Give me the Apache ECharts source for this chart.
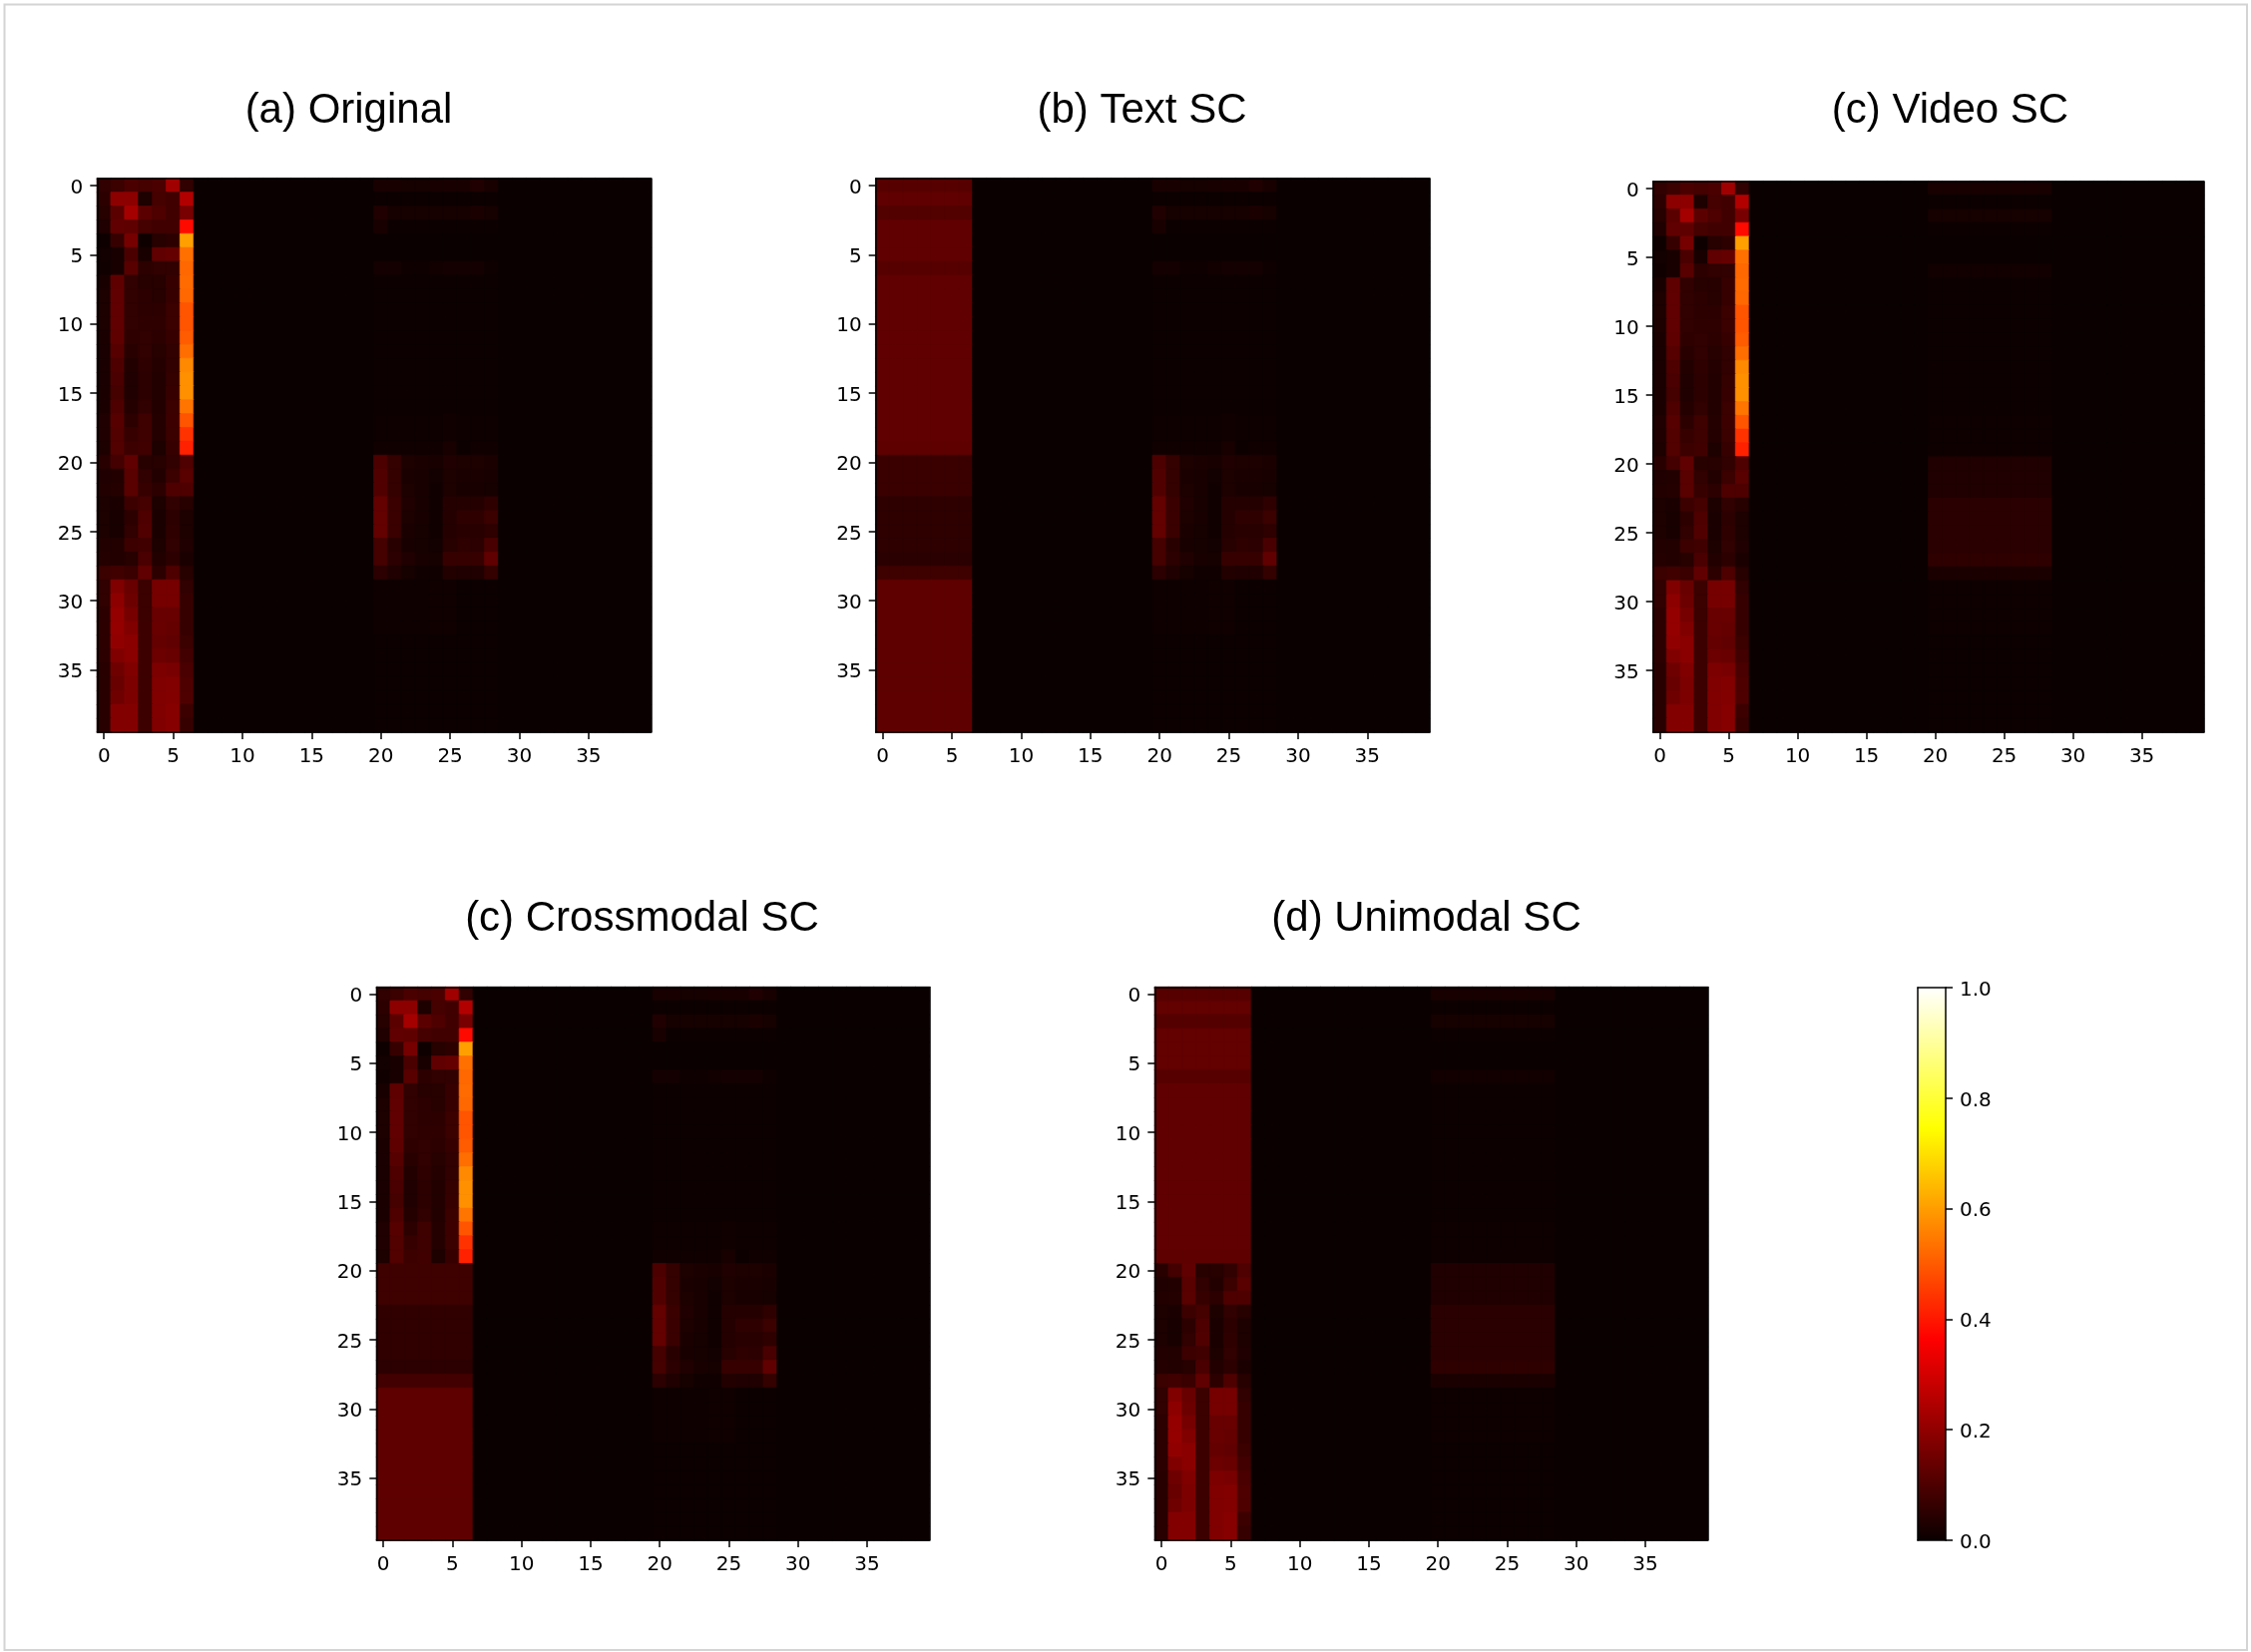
<!DOCTYPE html>
<html><head><meta charset="utf-8">
<style>html,body{margin:0;padding:0;background:#fff}#c{width:2256px;height:1656px}</style>
<script src="https://cdn.jsdelivr.net/npm/echarts@6/dist/echarts.min.js"></script>
</head><body><div id="c"></div>
<script>
const size = 40;
const indexLabels = Array.from({length: size}, (_, i) => String(i));
const colorbarTicks = [0, 0.2, 0.4, 0.6, 0.8, 1.0];
const panelTitles = ['(a) Original', '(b) Text SC', '(c) Video SC', '(c) Crossmodal SC', '(d) Unimodal SC'];

// Columns 0-6, rows 0-39
const originalLeft = [
[.058,.073,.096,.088,.096,.225,.058],[.051,.195,.195,.028,.088,.081,.250],[.043,.120,.230,.120,.100,.081,.165],
[.031,.130,.125,.088,.081,.081,.380],[.006,.066,.160,.006,.043,.051,.604],[.013,.021,.096,.021,.130,.135,.532],
[.010,.021,.115,.051,.058,.058,.520],[.021,.125,.058,.043,.043,.066,.525],[.028,.128,.058,.051,.043,.066,.520],
[.028,.128,.058,.051,.051,.073,.490],[.028,.128,.058,.055,.055,.073,.490],[.025,.125,.055,.058,.051,.066,.500],
[.024,.112,.046,.058,.043,.058,.530],[.024,.100,.036,.055,.040,.058,.570],[.024,.094,.031,.051,.037,.061,.580],
[.025,.088,.031,.051,.037,.066,.580],[.025,.100,.040,.058,.037,.073,.540],[.031,.112,.051,.078,.040,.076,.490],
[.031,.106,.066,.078,.040,.073,.440],[.028,.106,.074,.080,.028,.066,.415],[.046,.086,.128,.043,.043,.058,.102],
[.031,.036,.118,.058,.036,.073,.118],[.036,.040,.118,.066,.051,.100,.100],[.028,.025,.074,.088,.028,.058,.043],
[.028,.020,.051,.100,.025,.051,.028],[.028,.020,.058,.105,.025,.055,.028],[.037,.036,.074,.080,.028,.058,.031],
[.040,.037,.043,.095,.037,.051,.025],[.073,.080,.070,.130,.051,.100,.043],[.058,.175,.140,.073,.160,.160,.058],
[.058,.195,.145,.073,.160,.160,.066],[.051,.205,.160,.073,.140,.140,.066],[.051,.205,.175,.076,.140,.135,.066],
[.051,.200,.190,.076,.135,.130,.073],[.051,.175,.190,.076,.145,.140,.085],[.046,.150,.175,.076,.170,.165,.095],
[.046,.140,.170,.076,.175,.180,.100],[.046,.150,.170,.076,.175,.180,.100],[.046,.180,.180,.076,.175,.185,.076],
[.046,.180,.180,.076,.175,.185,.066]];

// Columns 20-28, rows 0-39
const originalMid = [
[.021,.021,.017,.017,.020,.022,.022,.032,.020],[.002,.002,.002,.002,.002,.002,.002,.002,.002],
[.032,.017,.017,.017,.017,.017,.017,.025,.017],[.022,.003,.003,.003,.003,.003,.003,.003,.003],
[0,0,0,0,0,0,0,0,0],[0,0,0,0,0,0,0,0,0],[.015,.015,.006,.006,.012,.015,.015,.015,.006],
[.004,.004,.004,.004,.004,.004,.004,.004,.004],[.004,.004,.004,.004,.004,.004,.004,.004,.004],
[.004,.004,.004,.004,.004,.004,.004,.004,.004],[.004,.004,.004,.004,.004,.004,.004,.004,.004],
[.004,.004,.004,.004,.004,.004,.004,.004,.004],[.004,.004,.004,.004,.004,.004,.004,.004,.004],
[.004,.004,.004,.004,.004,.004,.004,.004,.004],[.004,.004,.004,.004,.004,.004,.004,.004,.004],
[.004,.004,.004,.004,.004,.004,.004,.004,.004],[.004,.004,.004,.004,.004,.004,.004,.004,.004],
[.005,.005,.005,.005,.005,.010,.005,.005,.005],[.005,.005,.005,.005,.005,.010,.005,.005,.005],
[.010,.010,.008,.008,.010,.020,.003,.010,.010],[.098,.062,.028,.025,.020,.031,.028,.028,.025],
[.105,.062,.025,.022,.013,.028,.025,.025,.022],[.105,.062,.028,.022,.010,.028,.022,.022,.017],
[.132,.070,.031,.022,.010,.040,.040,.040,.055],[.132,.070,.028,.022,.010,.040,.055,.055,.072],
[.132,.070,.025,.017,.010,.040,.046,.046,.052],[.088,.046,.022,.017,.013,.043,.052,.050,.092],
[.088,.050,.031,.021,.017,.066,.066,.066,.128],[.050,.031,.017,.010,.010,.036,.031,.031,.062],
[.006,.006,.006,.006,.008,.008,.002,.002,.002],[.006,.006,.006,.006,.008,.008,.002,.002,.002],
[.006,.006,.006,.006,.008,.008,.002,.002,.002],[.006,.006,.006,.006,.008,.008,.002,.002,.002],
[.001,.001,.001,.001,.001,.001,.001,.001,.001],[.001,.001,.001,.001,.001,.001,.001,.001,.001],
[.001,.001,.001,.001,.001,.001,.001,.001,.001],[.001,.001,.001,.001,.001,.001,.001,.001,.001],
[.001,.001,.001,.001,.001,.001,.001,.001,.001],[.001,.001,.001,.001,.001,.001,.001,.001,.001],
[.001,.001,.001,.001,.001,.001,.001,.001,.001]];

// Rows whose cells share one value across the block
const textLeftRows = [.112,.128,.108,.130,.130,.130,.112,.130,.130,.130,.130,.130,.130,.130,.130,.130,.130,.130,.130,.125,
  .070,.070,.070,.052,.052,.052,.052,.048,.078,.126,.126,.126,.126,.126,.126,.126,.126,.126,.126,.126];
const crossLeftRows = [.078,.078,.078,.056,.056,.056,.056,.050,.084,.126,.126,.126,.126,.126,.126,.126,.126,.126,.126,.126];
const unimodalLeftRows = [.112,.132,.110,.132,.132,.132,.114,.130,.130,.130,.130,.130,.130,.130,.130,.130,.130,.130,.130,.126];
const sharedMidRows = [.020,.002,.017,.003,0,0,.012,.004,.004,.004,.004,.004,.004,.004,.004,.004,.004,.005,.005,.006,
  .032,.032,.032,.048,.048,.048,.048,.052,.025,.005,.005,.005,.005,.001,.001,.001,.001,.001,.001,.001];

const fill = (n, v) => Array(n).fill(v);
const textLeft = textLeftRows.map(v => fill(7, v));
const crossLeft = originalLeft.slice(0, 20).concat(crossLeftRows.map(v => fill(7, v)));
const unimodalLeft = unimodalLeftRows.map(v => fill(7, v)).concat(originalLeft.slice(20));
const sharedMid = sharedMidRows.map(v => fill(9, v));

const panelBlocks = [
  [originalLeft, originalMid],
  [textLeft, originalMid],
  [originalLeft, sharedMid],
  [crossLeft, originalMid],
  [unimodalLeft, sharedMid]
];

// matplotlib "hot" colormap
function hot(t) {
  const c = (a, b, s) => Math.round(255 * Math.min(1, Math.max(0, s + (t - a) / (b - a) * (1 - s))));
  return `rgb(${c(0, 0.365, 0.0416)},${c(0.365, 0.746, 0)},${c(0.746, 1, 0)})`;
}
const hotColors = Array.from({length: 256}, (_, i) => hot(i / 255));

function cells(left, mid) {
  const out = [];
  for (let y = 0; y < size; y++) for (let x = 0; x < size; x++) {
    let v = 0;
    if (x < 7) v = left[y][x];
    else if (x >= 20 && x <= 28) v = mid[y][x - 20];
    // same-coloured hairline closes the antialiasing seams between fractional cells
    out.push({value: [x, y, v], itemStyle: {borderColor: hot(v), borderWidth: 0.7}});
  }
  return out;
}

const layout = [
  {l: 97.3, t: 179, w: 555, h: 555, tx: 344.5, ty: 106},
  {l: 877.7, t: 179, w: 555, h: 555, tx: 1139.5, ty: 106},
  {l: 1656.7, t: 182, w: 552, h: 552, tx: 1949.5, ty: 106},
  {l: 377.3, t: 989.5, w: 554, h: 554.5, tx: 638.5, ty: 916},
  {l: 1157.3, t: 989.5, w: 554, h: 554.5, tx: 1424.5, ty: 916}
];
const cb = {l: 1922, t: 990, w: 28, h: 554};
const tickFont = {fontFamily: 'DejaVu Sans', fontSize: 20, color: '#000'};
const line = {show: true, onZero: false, lineStyle: {color: '#000', width: 1.5}};
const tickStyle = {show: true, length: 7, lineStyle: {color: '#000', width: 1.5}};
// Nudges the vertical tick labels down to sit on their ticks
const yLabelShift = {verticalAlign: 'top', lineHeight: 5};

const grids = [], xAxes = [], yAxes = [], series = [], titles = [];
layout.forEach((p, i) => {
  grids.push({left: p.l, top: p.t, width: p.w, height: p.h, show: true, backgroundColor: '#0b0000', borderWidth: 0});
  const g = grids.length - 1;
  xAxes.push({gridIndex: g, type: 'category', data: indexLabels, position: 'bottom', z: 5, axisLine: line,
    axisTick: {...tickStyle, alignWithLabel: true, interval: 4}, axisLabel: {...tickFont, interval: 4, margin: 15}, splitLine: {show: false}, splitArea: {show: false}});
  xAxes.push({gridIndex: g, type: 'category', data: indexLabels, position: 'top', z: 5, axisLine: line, axisTick: {show: false}, axisLabel: {show: false}, splitLine: {show: false}});
  yAxes.push({gridIndex: g, type: 'category', data: indexLabels, inverse: true, position: 'left', z: 5, axisLine: line,
    axisTick: {...tickStyle, alignWithLabel: true, interval: 4}, axisLabel: {...tickFont, ...yLabelShift, interval: 4, margin: 14}, splitLine: {show: false}, splitArea: {show: false}});
  yAxes.push({gridIndex: g, type: 'category', data: indexLabels, inverse: true, position: 'right', z: 5, axisLine: line, axisTick: {show: false}, axisLabel: {show: false}, splitLine: {show: false}});
  series.push({type: 'heatmap', xAxisIndex: xAxes.length - 2, yAxisIndex: yAxes.length - 2, data: cells(panelBlocks[i][0], panelBlocks[i][1]),
    progressive: 0, animation: false, emphasis: {disabled: true}});
  titles.push({text: panelTitles[i], left: p.tx, top: p.ty - 21, textAlign: 'center',
    textStyle: {fontFamily: 'Liberation Sans', fontSize: 42, fontWeight: 'normal', color: '#000', lineHeight: 42}});
});

// Colorbar
grids.push({left: cb.l, top: cb.t, width: cb.w, height: cb.h});
const cg = grids.length - 1;
xAxes.push({gridIndex: cg, type: 'category', data: ['hot'], position: 'bottom', z: 5, axisLine: line, axisTick: {show: false}, axisLabel: {show: false}});
xAxes.push({gridIndex: cg, type: 'category', data: ['hot'], position: 'top', z: 5, axisLine: line, axisTick: {show: false}, axisLabel: {show: false}});
yAxes.push({gridIndex: cg, type: 'value', min: 0, max: 1, position: 'left', z: 5, axisLine: line, axisTick: {show: false}, axisLabel: {show: false}, splitLine: {show: false}});
yAxes.push({gridIndex: cg, type: 'value', min: 0, max: 1, interval: 0.2, position: 'right', z: 5, axisLine: line, axisTick: tickStyle,
  axisLabel: {...tickFont, ...yLabelShift, margin: 14, formatter: v => v.toFixed(1)}, splitLine: {show: false}});
series.push({type: 'bar', xAxisIndex: xAxes.length - 2, yAxisIndex: yAxes.length - 1, barWidth: '100%', silent: true, animation: false,
  data: [colorbarTicks[colorbarTicks.length - 1]],
  itemStyle: {color: new echarts.graphic.LinearGradient(0, 1, 0, 0, hotColors.map((c, i) => ({offset: i / 255, color: c})))}});

const chart = echarts.init(document.getElementById('c'), null, {renderer: 'canvas', width: 2256, height: 1656});
chart.setOption({
  animation: false,
  backgroundColor: '#fff',
  title: titles,
  grid: grids, xAxis: xAxes, yAxis: yAxes, series,
  visualMap: {show: false, type: 'continuous', min: 0, max: 1, seriesIndex: [0, 1, 2, 3, 4], inRange: {color: hotColors}},
  graphic: [{type: 'rect', shape: {x: 4.5, y: 4.5, width: 2247.5, height: 1649.5}, style: {fill: 'none', stroke: '#d4d4d4', lineWidth: 2}, silent: true}]
});
</script></body></html>
